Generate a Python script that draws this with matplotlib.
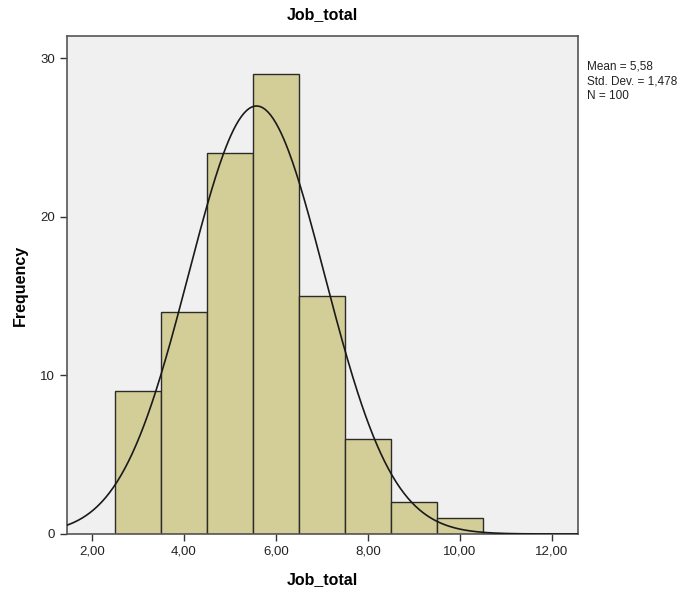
import numpy as np
import matplotlib
matplotlib.use('Agg')
import matplotlib.pyplot as plt
from matplotlib.ticker import FuncFormatter

plt.rcParams['font.family'] = ['Liberation Sans', 'DejaVu Sans']

# histogram data (bin left edges, width 1)
bin_edges = [2.5, 3.5, 4.5, 5.5, 6.5, 7.5, 8.5, 9.5, 10.5]
counts = [9, 14, 24, 29, 15, 6, 2, 1]
mean = 5.58
std = 1.478
n = 100
xticks = [2, 4, 6, 8, 10, 12]
yticks = [0, 10, 20, 30]

fig = plt.figure(figsize=(6.96, 5.92), dpi=100)
ax = fig.add_axes([0.0963, 0.098, 0.7342, 0.841])
ax.set_facecolor('#f0f0f0')

ax.bar(bin_edges[:-1], counts, width=np.diff(bin_edges), align='edge',
       color='#d3ce97', edgecolor='#2b2b2b', linewidth=1.0, zorder=2)

# normal curve scaled to counts
xs = np.linspace(1.46, 12.57, 400)
bw = bin_edges[1] - bin_edges[0]
ys = n * bw / (std * np.sqrt(2 * np.pi)) * np.exp(-0.5 * ((xs - mean) / std) ** 2)
ax.plot(xs, ys, color='#1a1a1a', linewidth=1.2, zorder=3)

ax.set_xlim(1.46, 12.57)
ax.set_ylim(0, 31.4)
ax.set_xticks(xticks)
ax.set_yticks(yticks)
ax.xaxis.set_major_formatter(FuncFormatter(lambda v, p: ('%.2f' % v).replace('.', ',')))
ax.tick_params(direction='out', length=5, width=1, color='#333333', labelsize=9.5, labelcolor='#222222')
for s in ax.spines.values():
    s.set_color('#555555')
    s.set_linewidth(1.2)

ax.set_title('Job_total', fontsize=11.5, fontweight='bold', pad=12)
ax.set_xlabel('Job_total', fontsize=11.5, fontweight='bold', labelpad=10)
ax.set_ylabel('Frequency', fontsize=11.5, fontweight='bold', labelpad=9)

fig.text(0.843, 0.898, 'Mean = 5,58\nStd. Dev. = 1,478\nN = 100',
         fontsize=8.5, va='top', ha='left', linespacing=1.3, color='#222222')

fig.savefig('out.png', dpi=100)
